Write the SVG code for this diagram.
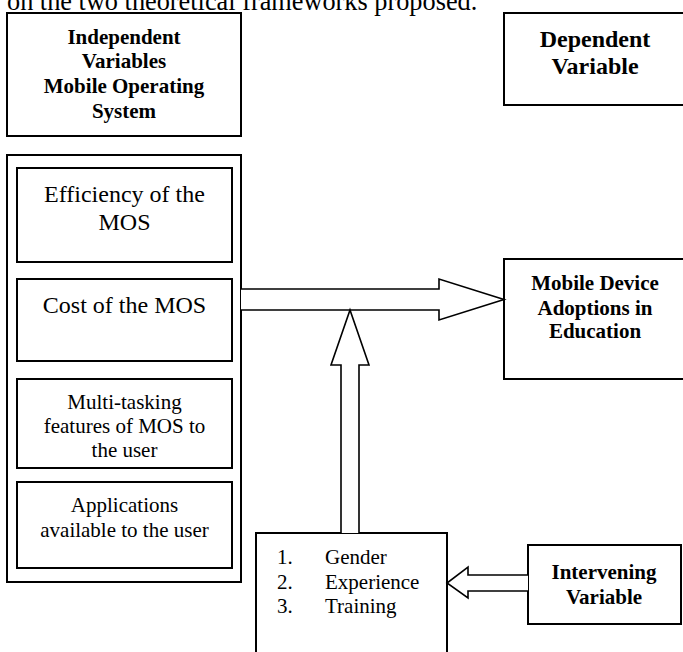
<svg xmlns="http://www.w3.org/2000/svg" width="683" height="652" viewBox="0 0 683 652">
<style>
text{font-family:"Liberation Serif","Times New Roman",serif;fill:#000}
.b{font-weight:bold;text-anchor:middle}
.c{text-anchor:middle}
.box{fill:#fff;stroke:#000;stroke-width:2}
.arr{fill:#fff;stroke:#000;stroke-width:1.6;stroke-linejoin:miter}
</style>
<rect width="683" height="652" fill="#fff"/>
<text x="7" y="10" font-size="26.3">on the two theoretical frameworks proposed.</text>
<g id="independent-header">
<rect class="box" x="7" y="13" width="234" height="123"/>
<text class="b" font-size="21" x="124" y="44">Independent</text>
<text class="b" font-size="21" x="124" y="68">Variables</text>
<text class="b" font-size="21" x="124" y="93">Mobile Operating</text>
<text class="b" font-size="21" x="124" y="118">System</text>
</g>
<g id="dependent-header">
<rect class="box" x="504" y="13" width="190" height="92"/>
<text class="b" font-size="24" x="595" y="47">Dependent</text>
<text class="b" font-size="24" x="595" y="74">Variable</text>
</g>
<g id="mos-container">
<rect class="box" x="7" y="155" width="234" height="427"/>
</g>
<g id="efficiency">
<rect class="box" x="17" y="168" width="215" height="94"/>
<text class="c" font-size="24" x="124.5" y="202">Efficiency of the</text>
<text class="c" font-size="24" x="124.5" y="230">MOS</text>
</g>
<g id="cost">
<rect class="box" x="17" y="279" width="215" height="82"/>
<text class="c" font-size="24" x="124.5" y="313">Cost of the MOS</text>
</g>
<g id="multitasking">
<rect class="box" x="17" y="379" width="215" height="89"/>
<text class="c" font-size="21" x="124.5" y="409">Multi-tasking</text>
<text class="c" font-size="21" x="124.5" y="433">features of MOS to</text>
<text class="c" font-size="21" x="124.5" y="457">the user</text>
</g>
<g id="applications">
<rect class="box" x="17" y="482" width="215" height="86"/>
<text class="c" font-size="21" x="124.5" y="512">Applications</text>
<text class="c" font-size="21" x="124.5" y="537">available to the user</text>
</g>
<g id="adoption">
<rect class="box" x="504" y="259" width="190" height="120"/>
<text class="b" font-size="21" x="595" y="290">Mobile Device</text>
<text class="b" font-size="21" x="595" y="315">Adoptions in</text>
<text class="b" font-size="21" x="595" y="338">Education</text>
</g>
<g id="intervening-factors">
<rect class="box" x="256" y="533" width="191" height="130"/>
<text font-size="21" x="277" y="564">1.</text>
<text font-size="21" x="325" y="564">Gender</text>
<text font-size="21" x="277" y="589">2.</text>
<text font-size="21" x="325" y="589">Experience</text>
<text font-size="21" x="277" y="613">3.</text>
<text font-size="21" x="325" y="613">Training</text>
</g>
<g id="intervening">
<rect class="box" x="528" y="545" width="153" height="79"/>
<text class="b" font-size="21" x="604" y="579">Intervening</text>
<text class="b" font-size="21" x="604" y="604">Variable</text>
</g>
<g id="connectors">
<path class="arr" d="M241,289 L439,289 L439,279 L504,299.5 L439,320 L439,310 L241,310"/>
<path class="arr" d="M341,533 L341,365 L331,365 L350,310 L369,365 L359,365 L359,533"/>
<path class="arr" d="M528,575 L468,575 L468,567 L447,583 L468,598 L468,591 L528,591"/>
</g>
</svg>
